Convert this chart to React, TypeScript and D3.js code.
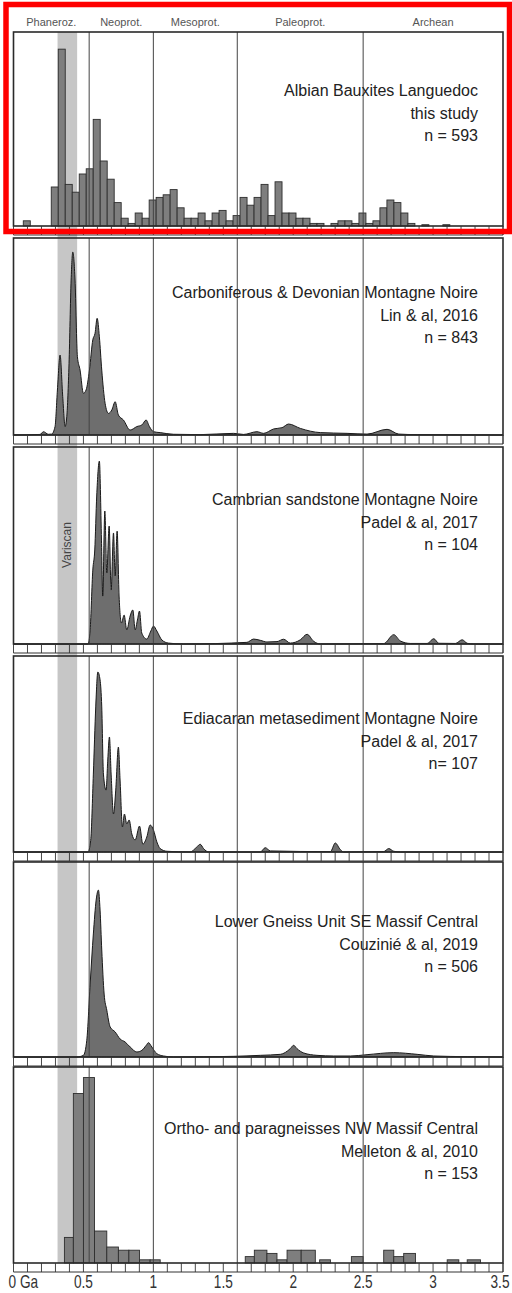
import * as d3 from "d3";

// era names and boundaries (Ga)
const eraNames = ["Phaneroz.", "Neoprot.", "Mesoprot.", "Paleoprot.", "Archean"];
const eraBounds = [0, 0.541, 1.0, 1.6, 2.5, 3.5];
const variscan = [0.315, 0.455];
const axisTicks = [0, 0.5, 1, 1.5, 2, 2.5, 3, 3.5];
const axisLabels = ["0 Ga", "0.5", "1", "1.5", "2", "2.5", "3", "3.5"];

// Albian bauxites: histogram, bins of 0.05 Ga starting at 0.02 Ga
const albianBinStart = 0.02;
const albianBinWidth = 0.05;
const albianCounts = [
  0, 2, 0, 0, 0, 15, 68, 16, 13, 20, 22, 41, 25, 18, 9, 3, 1, 5, 3, 10,
  11, 12, 14, 7, 3, 3, 5, 2, 5, 6, 2, 4, 11, 8, 11, 16, 4, 17, 5, 5,
  3, 3, 1, 1, 0, 1, 2, 2, 1, 5, 1, 2, 7, 10, 9, 5, 1, 0, 0.5, 0,
  0, 0.5,
];

// probability density curves, [age Ga, relative density (peak = 100)]
const devonianKde = [
  [0, 0], [0.19, 0.3], [0.214, 1.8], [0.249, 0.4], [0.273, 0.5], [0.297, 4.6],
  [0.314, 24.6], [0.333, 43.7], [0.352, 21], [0.369, 4.6], [0.381, 10],
  [0.397, 39], [0.412, 84.7], [0.424, 100], [0.44, 84.7], [0.457, 42.8],
  [0.476, 35.5], [0.5, 22.8], [0.519, 24.6], [0.543, 35.5], [0.567, 52],
  [0.583, 55.6], [0.598, 63.8], [0.614, 53.7], [0.631, 35.5], [0.655, 17.3],
  [0.679, 11.8], [0.703, 13.7], [0.727, 18.2], [0.75, 10.9], [0.786, 8.2],
  [0.834, 2.7], [0.882, 4.6], [0.918, 5.5], [0.948, 8.2], [0.972, 4.6],
  [1.001, 1.8], [1.049, 1.3], [1.144, 0.4], [1.335, 0.2], [1.574, 0.9],
  [1.645, 0.3], [1.741, 1.8], [1.788, 0.9], [1.86, 3.3], [1.92, 4],
  [1.967, 6], [2.051, 3.6], [2.194, 1.3], [2.385, 0.9], [2.528, 0.5],
  [2.671, 3.1], [2.755, 0.5], [2.886, 0.2], [3.5, 0],
];

const cambrianKde = [
  [0, 0], [0.533, 0], [0.548, 7.7], [0.567, 40.4], [0.581, 51.4], [0.595, 80.9],
  [0.614, 100], [0.629, 56.8], [0.638, 26.2], [0.653, 72.7], [0.667, 38.8],
  [0.684, 64.5], [0.698, 29.5], [0.715, 60.7], [0.727, 37.2], [0.741, 61.7],
  [0.755, 26.2], [0.772, 11.5], [0.791, 15.8], [0.81, 7.7], [0.834, 15.3],
  [0.853, 18.6], [0.87, 7.7], [0.886, 13.1], [0.901, 18], [0.917, 6],
  [0.953, 2.7], [0.982, 7.1], [1.001, 9.8], [1.025, 7.1], [1.061, 2.2],
  [1.108, 0.5], [1.216, 0], [1.669, 0.9], [1.717, 2.7], [1.765, 2],
  [1.812, 1.1], [1.884, 1.3], [1.931, 2.6], [1.979, 0.5], [2.051, 2.3],
  [2.099, 5.3], [2.146, 1.5], [2.194, 0], [2.647, 0.2], [2.719, 5.1],
  [2.767, 1.6], [2.838, 0.3], [2.958, 0.3], [3.005, 2.9], [3.041, 0.4],
  [3.16, 0.3], [3.208, 2.3], [3.244, 0.4], [3.291, 0], [3.5, 0],
];

const ediacaranKde = [
  [0, 0], [0.533, 0], [0.552, 6.5], [0.571, 43.3], [0.588, 80.6], [0.603, 100],
  [0.619, 95.6], [0.631, 80.6], [0.643, 43.3], [0.662, 34.4], [0.674, 51.1],
  [0.686, 63.9], [0.698, 43.3], [0.715, 21.1], [0.731, 34.4], [0.75, 58.3],
  [0.762, 40], [0.779, 13.9], [0.793, 21.1], [0.81, 15.6], [0.827, 17.8],
  [0.846, 10], [0.87, 6.7], [0.901, 14.4], [0.925, 4.4], [0.953, 8.3],
  [0.977, 15], [1.001, 12.2], [1.025, 5.6], [1.049, 1.9], [1.097, 0.4],
  [1.263, 0], [1.311, 2.8], [1.335, 4.3], [1.359, 1.9], [1.395, 0],
  [1.765, 0], [1.8, 2.4], [1.836, 0.6], [2.266, 0.2], [2.301, 5],
  [2.337, 1.3], [2.361, 0], [2.647, 0.2], [2.683, 1.9], [2.719, 0.4],
  [2.767, 0], [3.5, 0],
];

const gneissKde = [
  [0, 0], [0.452, 0], [0.5, 1], [0.524, 10], [0.548, 43.7], [0.571, 73.7],
  [0.591, 94], [0.607, 100], [0.619, 88], [0.631, 64.1], [0.648, 37.7],
  [0.667, 28.1], [0.691, 18], [0.727, 15], [0.762, 10.8], [0.798, 9],
  [0.834, 6], [0.882, 3], [0.918, 4], [0.949, 7], [0.965, 8.6], [0.989, 6],
  [1.025, 2], [1.073, 0.6], [1.144, 0], [1.574, 0.4], [1.765, 1],
  [1.908, 1.6], [1.979, 5], [2.003, 7], [2.027, 5], [2.075, 2.4],
  [2.17, 1], [2.289, 0.6], [2.409, 0.6], [2.528, 1.4], [2.719, 2.6],
  [2.886, 1.6], [3.005, 0.6], [3.244, 0.2], [3.5, 0],
];

// NW Massif Central: histogram bins [from Ga, to Ga, count]
const melletonBins = [
  [0.364, 0.428, 8], [0.428, 0.5, 53], [0.5, 0.579, 58], [0.579, 0.667, 10],
  [0.667, 0.75, 5], [0.75, 0.825, 4], [0.825, 0.901, 4], [0.901, 0.977, 1],
  [0.977, 1.049, 1], [1.657, 1.722, 2], [1.722, 1.812, 4], [1.812, 1.884, 3],
  [1.884, 1.956, 1], [1.956, 2.057, 4], [2.057, 2.158, 4], [2.189, 2.266, 1],
  [2.416, 2.5, 2], [2.647, 2.719, 4], [2.719, 2.79, 2], [2.79, 2.874, 3],
  [3.101, 3.184, 1], [3.244, 3.339, 1],
];

const panelTitles = [
  ["Albian Bauxites Languedoc", "this study", "n = 593"],
  ["Carboniferous & Devonian Montagne Noire", "Lin & al, 2016", "n = 843"],
  ["Cambrian sandstone Montagne Noire", "Padel & al, 2017", "n = 104"],
  ["Ediacaran metasediment Montagne Noire", "Padel & al, 2017", "n= 107"],
  ["Lower Gneiss Unit SE Massif Central", "Couzinié & al, 2019", "n = 506"],
  ["Ortho- and paragneisses NW Massif Central", "Melleton & al, 2010", "n = 153"],
];

const W = 512;
const H = 1293;
const FONT = "'Liberation Sans', Arial, Helvetica, sans-serif";
const panelTops = [32, 238, 447, 656, 862, 1067];
const panelBottoms = [226, 435, 644, 852, 1057, 1263];
const titleOffsets = [64, 60, 58, 68, 65, 67];
const stripH = 9;

const x = d3.scaleLinear().domain([0, 3.5]).range([13.5, 503]);

function Histogram({ bins, top, bottom, yMax }) {
  const y = d3.scaleLinear().domain([0, yMax]).range([bottom, top]);
  return (
    <g>
      {bins.map((b, i) =>
        b[2] > 0 ? (
          <rect key={i} x={x(b[0])} y={y(b[2])} width={x(b[1]) - x(b[0])}
            height={bottom - y(b[2])} fill="#7e7e7e" stroke="#2e2e2e" strokeWidth={0.9} />
        ) : null
      )}
    </g>
  );
}

function Density({ points, top, bottom, yMax }) {
  const y = d3.scaleLinear().domain([0, yMax]).range([bottom, top]);
  const area = d3.area()
    .x((d) => x(d[0]))
    .y0(bottom)
    .y1((d) => y(d[1]))
    .curve(d3.curveMonotoneX);
  return <path d={area(points)} fill="#6e6e6e" stroke="#1a1a1a" strokeWidth={1} />;
}

export default function App() {
  const albianBins = albianCounts.map((c, k) => [
    albianBinStart + k * albianBinWidth,
    albianBinStart + (k + 1) * albianBinWidth,
    c,
  ]);
  const marks = [
    { kind: "hist", data: albianBins, yMax: 74.6 },
    { kind: "kde", data: devonianKde, yMax: 107.7 },
    { kind: "kde", data: cambrianKde, yMax: 107.7 },
    { kind: "kde", data: ediacaranKde, yMax: 108.9 },
    { kind: "kde", data: gneissKde, yMax: 116.8 },
    { kind: "hist", data: melletonBins, yMax: 61.3 },
  ];
  const smallTicks = d3.range(0, 36).map((i) => i / 10);

  return (
    <svg width={W} height={H} style={{ position: "absolute", left: 0, top: 0, background: "#fff" }}
      fontFamily={FONT}>
      <rect width={W} height={H} fill="#fff" />

      {/* Variscan band */}
      <rect x={x(variscan[0])} y={panelTops[0]} width={x(variscan[1]) - x(variscan[0])}
        height={panelBottoms[5] - panelTops[0]} fill="#c6c6c6" />

      {/* era labels */}
      {eraNames.map((name, i) => (
        <text key={name} x={x((eraBounds[i] + eraBounds[i + 1]) / 2)} y={26} fontSize={11}
          textAnchor="middle" fill="#555">{name}</text>
      ))}

      {marks.map((m, i) => {
        const top = panelTops[i];
        const bottom = panelBottoms[i];
        return (
          <g key={i}>
            {m.kind === "hist" ? (
              <Histogram bins={m.data} top={top} bottom={bottom} yMax={m.yMax} />
            ) : (
              <Density points={m.data} top={top} bottom={bottom} yMax={m.yMax} />
            )}
            {eraBounds.slice(1, 5).map((b) => (
              <line key={b} x1={x(b)} x2={x(b)} y1={top} y2={bottom} stroke="#444" strokeWidth={1} />
            ))}
            <rect x={x(0)} y={top} width={x(3.5) - x(0)} height={bottom - top}
              fill="none" stroke="#2a2a2a" strokeWidth={1.6} />
            {/* tick strip */}
            <line x1={x(0)} x2={x(3.5)} y1={bottom + stripH} y2={bottom + stripH} stroke="#333" strokeWidth={1} />
            {smallTicks.map((t) => (
              <line key={t} x1={x(t)} x2={x(t)} y1={bottom} y2={bottom + stripH} stroke="#333" strokeWidth={0.9} />
            ))}
            <line x1={x(3.5)} x2={x(3.5)} y1={bottom} y2={bottom + stripH} stroke="#333" strokeWidth={1} />
            {panelTitles[i].map((line, j) => (
              <text key={j} x={478} y={top + titleOffsets[i] + j * 22.5} fontSize={16}
                textAnchor="end" fill="#222">{line}</text>
            ))}
          </g>
        );
      })}

      {/* Variscan label */}
      <text transform={`translate(${x((variscan[0] + variscan[1]) / 2) + 4},545) rotate(-90)`}
        fontSize={12} textAnchor="middle" fill="#444">Variscan</text>

      {/* age axis */}
      {axisTicks.map((t, i) => (
        <text key={t} transform={`translate(${i === 0 ? x(t) - 5 : i === 7 ? x(t) - 3 : x(t)},1288) scale(0.76,1)`}
          fontSize={18} textAnchor={i === 0 ? "start" : "middle"} fill="#333">{axisLabels[i]}</text>
      ))}

      {/* highlight box */}
      <rect x={6} y={4.5} width={503.5} height={227} fill="none" stroke="#ff0000" strokeWidth={5.5} />
    </svg>
  );
}
